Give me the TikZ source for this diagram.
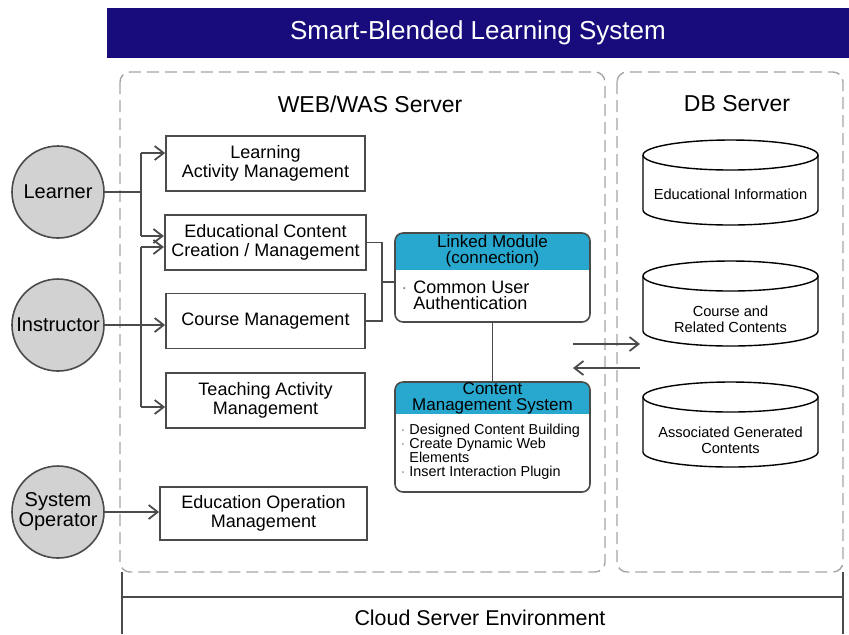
\documentclass[tikz,border=0pt]{standalone}
\usepackage{fontspec}
\setmainfont{Liberation Sans}
\usetikzlibrary{arrows.meta}
\definecolor{titlenavy}{RGB}{24,12,124}
\definecolor{headteal}{RGB}{40,168,206}
\definecolor{actorgray}{RGB}{210,210,210}
\definecolor{dashgray}{RGB}{165,165,165}
\definecolor{linegray}{RGB}{75,75,75}
\tikzset{
  actor/.style={circle, draw=linegray, line width=0.8pt, fill=actorgray, minimum size=46pt,
    inner sep=0pt, align=center, font=\fontsize{10}{9}\selectfont},
  mgmt/.style={draw=linegray, line width=0.9pt, minimum width=99.5pt, minimum height=27.5pt,
    align=center, font=\fontsize{9}{9.5}\selectfont},
  conn/.style={draw=linegray, line width=0.9pt},
  tip/.style={-{Straight Barb[length=4.5pt,width=7pt]}},
  serverbox/.style={draw=dashgray, line width=0.7pt, dash pattern=on 6pt off 3pt, rounded corners=5pt},
  dbstore/.style={draw=black, line width=0.7pt},
  dblabel/.style={align=center, font=\fontsize{7.3}{8.2}\selectfont},
  modbox/.style={draw=linegray, line width=0.8pt, rounded corners=4pt, minimum width=97.5pt},
  modhead/.style={align=center, font=\fontsize{8.5}{8}\selectfont},
}
\begin{document}
\begin{tikzpicture}[x=0.5pt, y=-0.5pt]
  \useasboundingbox (0,0) rectangle (849,634);
  %
  \node[fill=titlenavy, text=white, minimum width=371pt, minimum height=25pt, inner sep=0pt,
    font=\fontsize{13}{13}\selectfont] (title) at (478,33) {Smart-Blended Learning System}; % title bar
  %
  \draw[serverbox] (120,72) rectangle (605,572);     % web frame
  \draw[serverbox] (617,72) rectangle (843,572);     % db frame
  \node[font=\fontsize{11.5}{12}\selectfont] (webtitle) at (370,104) {WEB/WAS Server};
  \node[font=\fontsize{11.5}{12}\selectfont] (dbtitle) at (737,104) {DB Server};
  %
  \draw[linegray, line width=0.8pt] (122,572) -- (122,634);   % cloud
  \draw[linegray, line width=0.8pt] (843,572) -- (843,634);
  \draw[linegray, line width=0.8pt] (122,597) -- (843,597);
  \node[font=\fontsize{10.7}{11}\selectfont] (cloud) at (480,618) {Cloud Server Environment};
  %
  \node[actor] (learner) at (58,192) {Learner};                % actors
  \node[actor] (instructor) at (58,325) {Instructor};
  \node[actor] (sysop) at (58,512) {System\\Operator};
  %
  \node[mgmt] (lam) at (265.5,163.5) {Learning\\Activity Management};   % web modules
  \node[mgmt] (eccm) at (265.5,242.5) {Educational Content\\Creation / Management};
  \node[mgmt] (cm) at (265.5,321) {Course Management};
  \node[mgmt] (tam) at (265.5,400.5) {Teaching Activity\\Management};
  \node[mgmt, minimum width=103.5pt, minimum height=26.5pt] (eom) at (263.5,513.5) {Education Operation\\Management};
  %
  \coordinate (lbustop) at (141,153);
  \coordinate (lbusbot) at (141,236);
  \coordinate (ibustop) at (141,247);
  \coordinate (ibusbot) at (141,407);
  \draw[conn] (learner.east) -- (learner.east -| lbustop);    % learner
  \draw[conn] (lbustop) -- (lbusbot);
  \draw[conn, tip] (lbustop) -- (lbustop -| lam.west);
  \draw[conn, tip] (lbusbot) -- (lbusbot -| eccm.west);
  %%
  \draw[conn] (ibustop) -- (ibusbot);                          % instructor
  \draw[conn, tip] (ibustop) -- (ibustop -| eccm.west);
  \draw[conn, tip] (ibusbot) -- (ibusbot -| tam.west);
  \draw[conn, tip] (instructor.east) -- (instructor.east -| cm.west);
  %%
  \draw[conn, tip] (sysop.east) -- (sysop.east -| eom.west);   % operator
  %
  \begin{scope}
    \clip[rounded corners=4pt] (395,233) rectangle (590,322);
    \fill[headteal] (395,233) rectangle (590,270);
  \end{scope}
  \node[modbox, minimum height=44.5pt] (lm) at (492.5,277.5) {};        % linked module
  \node[modhead] (lmhead) at (492.5,251) {Linked Module\\(connection)};
  \node[font=\fontsize{9}{8}\selectfont, align=left, anchor=west, inner sep=0pt] (lmbody) at (413,295)
    {\llap{\textcolor{gray}{\textperiodcentered}\hspace{3pt}}Common User\\Authentication};
  %
  \begin{scope}
    \clip[rounded corners=4pt] (395,382) rectangle (590,492);
    \fill[headteal] (395,382) rectangle (590,414);
  \end{scope}
  \node[modbox, minimum height=55pt] (cms) at (492.5,437) {};            % content management
  \node[modhead] (cmshead) at (492.5,398) {Content\\Management System};
  \node[font=\fontsize{7.2}{7}\selectfont, align=left, anchor=west, inner sep=0pt] (cmsbody) at (409,452)
    {\llap{\textcolor{gray}{\textperiodcentered}\hspace{2pt}}Designed Content Building\\
     \llap{\textcolor{gray}{\textperiodcentered}\hspace{2pt}}Create Dynamic Web\\
     Elements\\
     \llap{\textcolor{gray}{\textperiodcentered}\hspace{2pt}}Insert Interaction Plugin};
  %
  \coordinate (rbus) at (382,282);
  \draw[conn] (eccm.east) -| (rbus) |- (cm.east);
  \draw[conn] (rbus) -- (rbus -| lm.west);
  \draw[conn] (lm.south) -- (cms.north);
  %
  \foreach \t in {140,261,382}{                                % db stores
    \draw[dbstore] (730.5,\t+15) ellipse [x radius=87.5, y radius=15];
    \draw[dbstore] (643,\t+15) -- (643,\t+70) arc[start angle=180, end angle=0, x radius=87.5, y radius=15] -- (818,\t+15);
  }
  \node[dblabel] (eduinfo) at (730.5,194) {Educational Information};
  \node[dblabel] (courseinfo) at (730.5,319) {Course and\\Related Contents};
  \node[dblabel] (assoc) at (730.5,440) {Associated Generated\\Contents};
  %
  \coordinate (webout) at (573,344);
  \coordinate (dbin) at (640,344);
  \coordinate (dbout) at (640,368);
  \coordinate (webin) at (573,368);
  \draw[conn, tip] (webout) -- (dbin);
  \draw[conn, tip] (dbout) -- (webin);
  %
\end{tikzpicture}
\end{document}
